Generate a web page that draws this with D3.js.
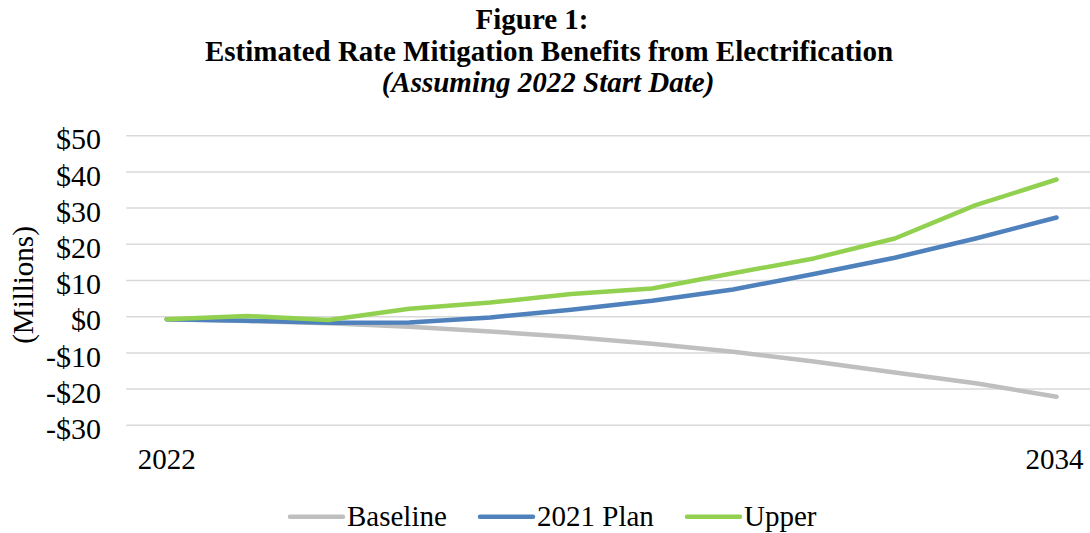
<!DOCTYPE html>
<html><head><meta charset="utf-8">
<script src="https://cdn.jsdelivr.net/npm/d3@7"></script>
<style>body{margin:0;background:#fff}svg{display:block}text{font-family:"Liberation Serif","Times New Roman",serif;fill:#000}</style>
</head><body><svg id="c" width="1090" height="533"></svg>
<script>
const categories = ["2022","2023","2024","2025","2026","2027","2028","2029","2030","2031","2032","2034"];
const tickLabels = ["2022","","","","","","","","","","","2034"];
const yTicks = [-30,-20,-10,0,10,20,30,40,50];
const baseline = [-0.7,-1.2,-1.8,-2.8,-4.1,-5.6,-7.5,-9.7,-12.4,-15.4,-18.4,-22.1];
const plan2021 = [-0.7,-1.1,-1.7,-1.6,-0.2,1.9,4.4,7.5,11.8,16.3,21.6,27.4];
const upper = [-0.7,0.2,-0.9,2.2,3.9,6.3,7.8,12.0,16.1,21.6,30.8,37.9];
const seriesNames = ["Baseline","2021 Plan","Upper"];
const seriesColors = ["#bfbfbf","#4f81bd","#92d050"];
const series = [baseline, plan2021, upper];

const svg = d3.select("#c");
const L = 126.25, R = 1097, T = 135.7, B = 425.3;
const FS = 29;
const x = d3.scaleBand().domain(categories).range([L, R]);
const y = d3.scaleLinear().domain([-30, 50]).range([B, T]);

// gridlines
svg.append("g").selectAll("line").data(yTicks).join("line")
  .attr("x1", L).attr("x2", 1090).attr("y1", d => y(d)).attr("y2", d => y(d))
  .attr("stroke", "#d9d9d9").attr("stroke-width", 1.5);

// y axis labels
const yAxis = d3.axisLeft(y).tickValues(yTicks).tickSize(0).tickPadding(0)
  .tickFormat(d => (d < 0 ? "-$" + Math.abs(d) : "$" + d));
const gy = svg.append("g").attr("transform", "translate(101,0)").call(yAxis);
gy.select(".domain").remove();
gy.selectAll("text").attr("font-size", 30).attr("font-family", "Liberation Serif").attr("fill", "#000").attr("dy", "0.44em");

// x axis labels
const xAxis = d3.axisBottom(x).tickSize(0).tickPadding(0).tickFormat((d, i) => tickLabels[i]);
const gx = svg.append("g").attr("transform", "translate(0,448)").call(xAxis);
gx.select(".domain").remove();
gx.selectAll("text").attr("font-size", FS).attr("font-family", "Liberation Serif").attr("fill", "#000").attr("dy", "0.71em");
gx.selectAll(".tick").filter((d, i) => i === categories.length - 1).select("text").attr("dx", -2);

// lines
const line = d3.line().x((d, i) => x(categories[i]) + x.bandwidth() / 2).y(d => y(d));
svg.append("g").selectAll("path").data(series).join("path")
  .attr("d", d => line(d)).attr("fill", "none")
  .attr("stroke", (d, i) => seriesColors[i]).attr("stroke-width", 4.5)
  .attr("stroke-linecap", "round").attr("stroke-linejoin", "round");

// y title
svg.append("text").attr("transform", "translate(33,285) rotate(-90)")
  .attr("text-anchor", "middle").attr("font-size", FS).text("(Millions)");

// title
svg.append("text").attr("x", 532).attr("y", 29).attr("text-anchor", "middle")
  .attr("font-size", FS).attr("font-weight", "bold").text("Figure 1:");
svg.append("text").attr("x", 549).attr("y", 61).attr("text-anchor", "middle")
  .attr("font-size", FS).attr("font-weight", "bold")
  .text("Estimated Rate Mitigation Benefits from Electrification");
svg.append("text").attr("x", 548).attr("y", 92).attr("text-anchor", "middle")
  .attr("font-size", FS).attr("font-weight", "bold").attr("font-style", "italic")
  .text("(Assuming 2022 Start Date)");

// legend
const legX = [288, 478, 685];
const lg = svg.append("g").selectAll("g").data(seriesNames).join("g")
  .attr("transform", (d, i) => `translate(${legX[i]},0)`);
lg.append("line").attr("x1", 2).attr("x2", 55).attr("y1", 516.7).attr("y2", 516.7)
  .attr("stroke", (d, i) => seriesColors[i]).attr("stroke-width", 4.5).attr("stroke-linecap", "round");
lg.append("text").attr("x", 59).attr("y", 526).attr("font-size", FS).text(d => d);
</script></body></html>
